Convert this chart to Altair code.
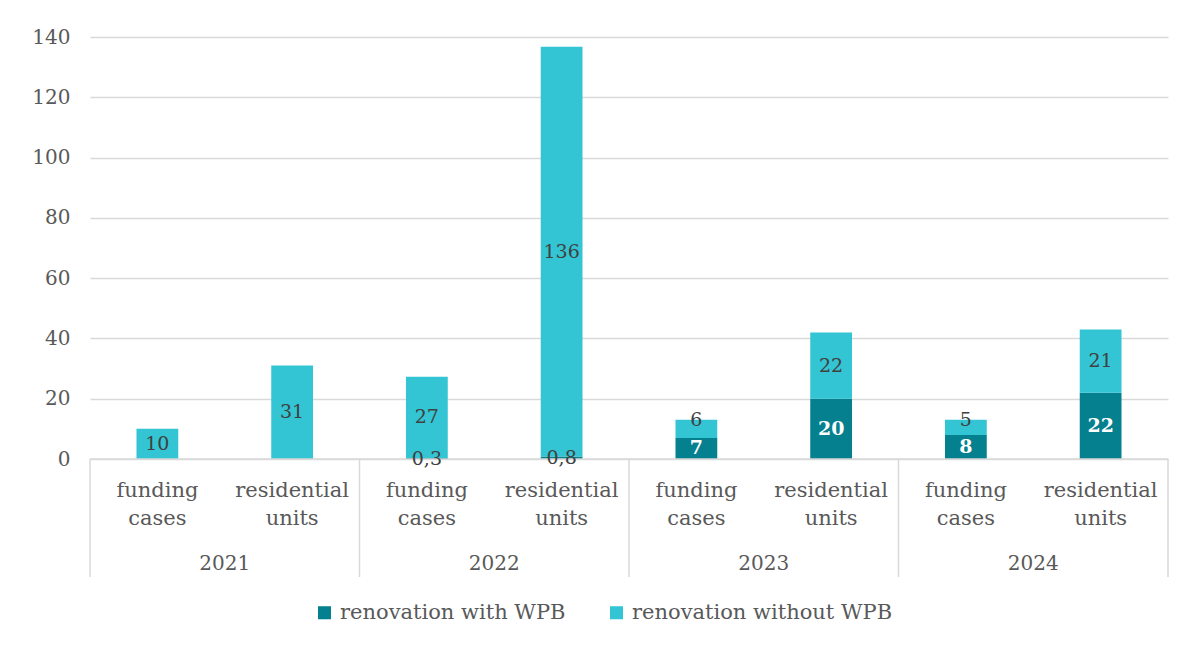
import altair as alt
import pandas as pd

years = ["2021", "2021", "2022", "2022", "2023", "2023", "2024", "2024"]
measures = ["funding cases", "residential units"] * 4
measure_lines = {"funding cases": "funding\ncases", "residential units": "residential\nunits"}
with_wpb = [0, 0, 0.3, 0.8, 7, 20, 8, 22]
with_labels = ["", "", "0,3", "0,8", "7", "20", "8", "22"]
without_wpb = [10, 31, 27, 136, 6, 22, 5, 21]
without_labels = ["10", "31", "27", "136", "6", "22", "5", "21"]
series_names = ["renovation with WPB", "renovation without WPB"]
colors = ["#05808E", "#33C5D3"]
y_ticks = [0, 20, 40, 60, 80, 100, 120, 140]

FONT = "DejaVu Serif"
W, H = 1078, 422

rows = []
keys = []
for i in range(len(years)):
    key = f"{years[i]}|{measures[i]}"
    keys.append(key)
    s0, e0 = 0, with_wpb[i]
    s1, e1 = e0, e0 + without_wpb[i]
    mid0 = (s0 + e0) / 2
    mid1 = (s1 + e1) / 2 if without_wpb[i] >= 7 else e1
    rows.append(dict(key=key, year=years[i], measure=measure_lines[measures[i]],
                     series=series_names[0], start=s0, end=e0, lab=with_labels[i],
                     pos=mid0, light=with_wpb[i] >= 1, order=0))
    rows.append(dict(key=key, year=years[i], measure=measure_lines[measures[i]],
                     series=series_names[1], start=s1, end=e1, lab=without_labels[i],
                     pos=mid1, light=False, order=1))
df = pd.DataFrame(rows)
cats = df[df.order == 0].copy()
cats["is_first"] = cats["key"].str.endswith("funding cases")

xscale = alt.Scale(domain=keys, paddingInner=0, paddingOuter=0)
yscale = alt.Scale(domain=[0, 140])
base = alt.Chart(df)

bars = base.mark_bar(width=alt.RelativeBandSize(0.31)).encode(
    x=alt.X("key:N", scale=xscale, axis=None),
    y=alt.Y("end:Q", scale=yscale,
            axis=alt.Axis(values=y_ticks, title=None, domain=False, ticks=False,
                          grid=True, gridColor="#D9D9D9", gridWidth=1.5,
                          labelFont=FONT, labelFontSize=20, labelColor="#595959",
                          labelPadding=20)),
    y2="start:Q",
    color=alt.Color("series:N", scale=alt.Scale(domain=series_names, range=colors),
                    legend=alt.Legend(title=None, orient="none", legendX=224, legendY=565,
                                      direction="horizontal", symbolType="square",
                                      symbolSize=170, symbolStrokeWidth=0,
                                      labelFont=FONT, labelFontSize=21, labelLimit=0,
                                      labelColor="#595959", labelOffset=5,
                                      columnPadding=40, padding=0)),
    order=alt.Order("order:Q"),
)

dark_labels = base.transform_filter("datum.lab != '' && !datum.light").mark_text(
    font=FONT, fontSize=19, baseline="middle", align="center", color="#404040"
).encode(
    x=alt.X("key:N", scale=xscale),
    y=alt.Y("pos:Q", scale=yscale),
    text="lab:N",
)

light_labels = base.transform_filter("datum.lab != '' && datum.light").mark_text(
    font=FONT, fontSize=19, fontWeight="bold", baseline="middle", align="center",
    color="white"
).encode(
    x=alt.X("key:N", scale=xscale),
    y=alt.Y("pos:Q", scale=yscale),
    text="lab:N",
)

baseline_rule = alt.Chart(pd.DataFrame({"v": [0]})).mark_rule(
    color="#D9D9D9", strokeWidth=1.5
).encode(y=alt.Y("v:Q", scale=yscale))

sep_left = alt.Chart(cats[cats.is_first]).mark_rule(color="#D9D9D9", strokeWidth=1.5).encode(
    x=alt.X("key:N", scale=xscale, bandPosition=0),
    y=alt.value(H), y2=alt.value(H + 118),
)
sep_right = alt.Chart(cats.tail(1)).mark_rule(color="#D9D9D9", strokeWidth=1.5).encode(
    x=alt.X("key:N", scale=xscale, bandPosition=1),
    y=alt.value(H), y2=alt.value(H + 118),
)

sub_labels = alt.Chart(cats).mark_text(
    font=FONT, fontSize=21, color="#595959", baseline="middle", align="center",
    lineBreak="\n", lineHeight=28,
).encode(
    x=alt.X("key:N", scale=xscale),
    y=alt.value(H + 32),
    text="measure:N",
)

year_labels = alt.Chart(cats[~cats.is_first]).mark_text(
    font=FONT, fontSize=20, color="#595959", baseline="middle", align="center",
).encode(
    x=alt.X("key:N", scale=xscale, bandPosition=0),
    y=alt.value(H + 105),
    text="year:N",
)

chart = alt.layer(
    bars, baseline_rule, dark_labels, light_labels, sep_left, sep_right,
    sub_labels, year_labels
).properties(
    width=W, height=H,
    background="white",
    autosize=alt.AutoSizeParams(type="none"),
    padding={"left": 82, "top": 29, "right": 24, "bottom": 187},
).configure_view(stroke=None)

chart.save("out.html", embed_options={"renderer": "svg", "actions": False})
